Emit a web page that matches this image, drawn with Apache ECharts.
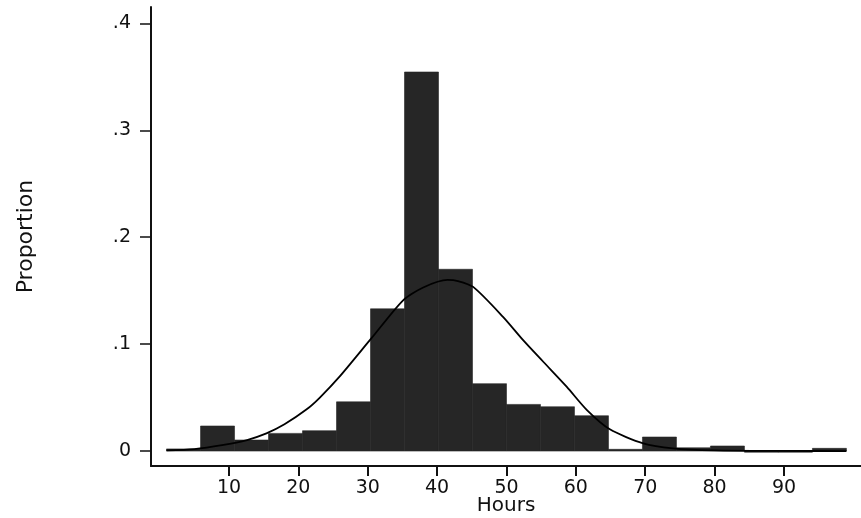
<!DOCTYPE html>
<html>
<head>
<meta charset="utf-8">
<script src="https://cdn.jsdelivr.net/npm/echarts@6/dist/echarts.min.js"></script>
<style>
  html, body { margin: 0; padding: 0; background: #fff; }
  #chart { width: 861px; height: 518px; }
</style>
</head>
<body>
<div id="chart"></div>
<script>
// histogram bins (left edges, width 4.9)
const binStarts = [1, 5.9, 10.8, 15.7, 20.6, 25.5, 30.4, 35.3, 40.2, 45.1, 50, 54.9, 59.8, 64.7, 69.6, 74.5, 79.4, 84.3, 89.2, 94.1]
const binWidth = 4.9
const proportions = [0.002, 0.0234, 0.0103, 0.0165, 0.019, 0.046, 0.133, 0.3545, 0.170, 0.063, 0.0436, 0.0414, 0.033, 0.0016, 0.0131, 0.003, 0.0047, 0.0003, 0.0003, 0.0025]

// normal overlay
const curveX = [1, 5, 9, 12.6, 15.4, 18, 21.2, 23.1, 26, 30.6, 35.1, 38, 41.5, 43, 45.2, 49.5, 52.4, 55.3, 58.7, 61.6, 64.9, 69.7, 74, 80, 90, 99]
const curveY = [0.0006, 0.0018, 0.0055, 0.0103, 0.0165, 0.025, 0.039, 0.050, 0.070, 0.106, 0.141, 0.153, 0.160, 0.159, 0.1535, 0.1255, 0.1037, 0.0835, 0.060, 0.0383, 0.0203, 0.0072, 0.0025, 0.0006, 0.0001, 0]

const xTicks = [10, 20, 30, 40, 50, 60, 70, 80, 90]
const yTicks = [0, 0.1, 0.2, 0.3, 0.4]

const font = 'DejaVu Sans'

const chart = echarts.init(document.getElementById('chart'))

const option = {
  animation: false,
  backgroundColor: '#fff',
  grid: {left: 151, right: 0, top: 7, bottom: 52, outerBoundsMode: 'none', containLabel: false},
  xAxis: {
    type: 'value',
    min: -1.24,
    max: 101.1,
    name: 'Hours',
    nameLocation: 'middle',
    nameGap: 30,
    nameMoveOverlap: false,
    nameTextStyle: {color: '#111', fontFamily: font, fontSize: 20},
    axisLine: {show: true, onZero: false, lineStyle: {color: '#111', width: 2}},
    axisTick: {show: true, length: 10, customValues: xTicks, lineStyle: {color: '#111', width: 2}},
    axisLabel: {customValues: xTicks, margin: 13, color: '#111', fontFamily: font, fontSize: 19},
    splitLine: {show: false}
  },
  yAxis: {
    type: 'value',
    min: -0.014,
    max: 0.4153,
    name: 'Proportion',
    nameLocation: 'middle',
    nameGap: 114,
    nameMoveOverlap: false,
    nameTextStyle: {color: '#111', fontFamily: font, fontSize: 22},
    axisLine: {show: true, onZero: false, lineStyle: {color: '#111', width: 2}},
    axisTick: {show: true, length: 11, customValues: yTicks, lineStyle: {color: '#111', width: 1.5}},
    axisLabel: {
      customValues: yTicks,
      margin: 20,
      color: '#111',
      fontFamily: font,
      fontSize: 19,
      formatter: function (v) {
        return v === 0 ? '0' : String(+v.toFixed(2)).replace('0.', '.')
      }
    },
    splitLine: {show: false}
  },
  series: [
    {
      type: 'custom',
      data: binStarts.map((s, i) => [s, s + binWidth, proportions[i]]),
      renderItem: function (params, api) {
        const p0 = api.coord([api.value(0), 0])
        const p1 = api.coord([api.value(1), api.value(2)])
        return {
          type: 'rect',
          shape: {x: p0[0], y: p1[1], width: p1[0] - p0[0], height: Math.max(p0[1] - p1[1], 1.5)},
          style: {fill: '#262626', stroke: '#262626', lineWidth: 0.6}
        }
      }
    },
    {
      type: 'line',
      data: curveX.map((x, i) => [x, curveY[i]]),
      smooth: 0.25,
      symbol: 'none',
      lineStyle: {color: '#000', width: 1.8}
    }
  ]
}

chart.setOption(option)
</script>
</body>
</html>
